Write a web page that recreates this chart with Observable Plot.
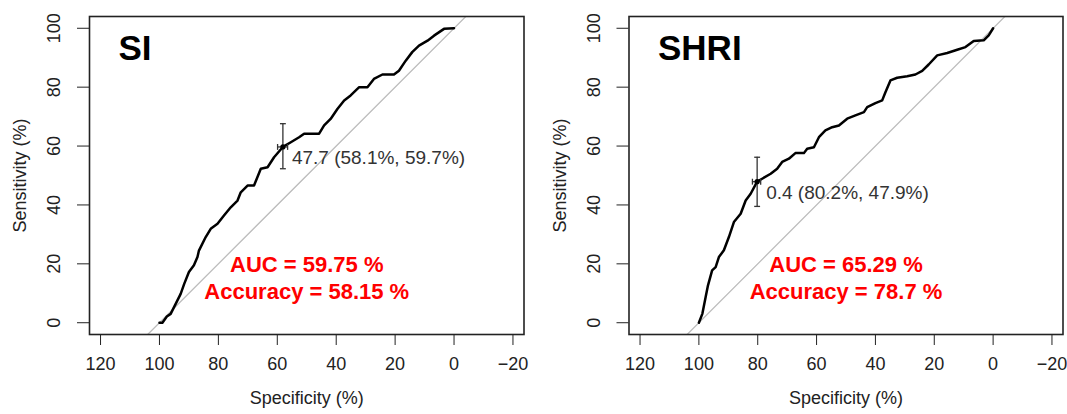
<!DOCTYPE html>
<html><head><meta charset="utf-8">
<script src="https://cdn.jsdelivr.net/npm/d3@7"></script>
<script src="https://cdn.jsdelivr.net/npm/@observablehq/plot@0.6"></script>
<style>
body{margin:0;background:#fff;}
#row{display:flex;width:1067px;height:414px;overflow:hidden;}
#row svg{flex:none;}
</style>
</head><body><div id="row"></div>
<script>
// ---- data ----
const xTicks = [120, 100, 80, 60, 40, 20, 0, -20];
const yTicks = [0, 20, 40, 60, 80, 100];
const panelTitles = ["SI", "SHRI"];

const siSpec = [100, 99, 97.5, 96.2, 94.5, 92.8, 91.6, 90.0, 88.3, 87.1, 86.6, 84.3, 82.6, 80.3, 78.1, 75.8, 73.5, 72.4, 70.1, 67.9, 65.6, 63.3, 61.1, 58.1, 55.4, 52.6, 50.9, 45.8, 44.1, 41.9, 39.6, 37.3, 35.1, 32.2, 29.4, 27.2, 24.3, 20.4, 18.7, 16.4, 14.2, 11.9, 9.0, 6.8, 3.4, 0];
const siSens = [0, 0, 2.1, 3.0, 6.4, 9.8, 13.2, 17.2, 19.5, 22.3, 24.5, 29.1, 31.9, 33.6, 36.4, 39.2, 41.5, 44.3, 46.6, 46.6, 52.3, 52.8, 56.2, 59.7, 61.3, 63.0, 64.2, 64.2, 67.0, 69.2, 72.6, 75.5, 77.2, 80.0, 80.0, 82.8, 84.3, 84.3, 85.6, 89.0, 91.9, 94.1, 95.8, 97.5, 99.8, 100];

const shriSpec = [100, 98.8, 97.7, 96.9, 95.5, 94.3, 93.2, 91.5, 89.8, 88.1, 85.8, 84.1, 82.4, 80.2, 78.5, 75.6, 73.4, 71.7, 69.4, 67.2, 64.3, 63.2, 60.9, 59.2, 57.0, 54.7, 52.4, 49.6, 46.8, 43.9, 42.8, 40.0, 37.7, 36.6, 34.9, 32.6, 29.2, 26.4, 24.1, 21.9, 19.0, 15.6, 12.2, 9.4, 6.6, 3.2, 1.5, 0];
const shriSens = [0, 3.1, 8.7, 12.7, 17.8, 18.9, 22.3, 24.6, 29.1, 34.2, 37.0, 41.5, 43.8, 47.9, 48.9, 50.6, 52.3, 54.6, 55.7, 57.6, 57.6, 59.1, 59.6, 63.0, 65.3, 66.4, 67.0, 69.3, 70.4, 71.5, 73.2, 74.6, 75.5, 78.3, 82.3, 83.2, 83.7, 84.3, 85.5, 87.7, 90.8, 91.6, 92.7, 93.6, 95.7, 95.9, 97.6, 100];

const thresholdLabels = ["47.7", "0.4"];
const thresholdSpec = [58.1, 80.2];
const thresholdSens = [59.7, 47.9];
const sensCILow = [52.3, 39.5];
const sensCIHigh = [67.6, 56.2];
const specCILow = [56.5, 79.0];
const specCIHigh = [59.9, 81.8];
const aucValues = ["59.75", "65.29"];
const accuracyValues = ["58.15", "78.7"];

const diagSpec = [130, -30]; // chance line, sensitivity = 100 - specificity

// ---- drawing ----
const FONT = "'Liberation Sans', Arial, Helvetica, sans-serif";
const INK = "#222";
const CAP = 1; // half cap width in data units

function panel(i, curveSpec, curveSens, width, marginLeft, marginRight) {
  const curve = curveSpec.map((s, k) => ({spec: s, sens: curveSens[k]}));
  const thr = [{
    spec: thresholdSpec[i], sens: thresholdSens[i],
    lo: sensCILow[i], hi: sensCIHigh[i], slo: specCILow[i], shi: specCIHigh[i],
    label: `${thresholdLabels[i]} (${thresholdSpec[i]}%, ${thresholdSens[i]}%)`
  }];
  const fmt = d => d < 0 ? "\u2212" + (-d) : String(d);
  return Plot.plot({
    width, height: 414,
    marginLeft, marginRight, marginTop: 16, marginBottom: 80,
    x: {domain: [123.75, -23.75]},
    y: {domain: [-4, 104]},
    style: {fontFamily: FONT, fontSize: "18px", color: INK, background: "#fff", overflow: "visible"},
    marks: [
      Plot.line(diagSpec, {x: d => d, y: d => 100 - d, stroke: "#bdbdbd", strokeWidth: 1.3, clip: true}),
      Plot.line(curve, {x: "spec", y: "sens", stroke: "#000", strokeWidth: 2.5, strokeLinejoin: "round"}),
      // CI cross
      Plot.ruleX(thr, {x: "spec", y1: "lo", y2: "hi", stroke: "#333", strokeWidth: 1.3}),
      Plot.link(thr, {x1: d => d.spec + CAP, x2: d => d.spec - CAP, y1: "lo", y2: "lo", stroke: "#333", strokeWidth: 1.3}),
      Plot.link(thr, {x1: d => d.spec + CAP, x2: d => d.spec - CAP, y1: "hi", y2: "hi", stroke: "#333", strokeWidth: 1.3}),
      Plot.ruleY(thr, {y: "sens", x1: "slo", x2: "shi", stroke: "#333", strokeWidth: 1.3}),
      Plot.link(thr, {x1: "slo", x2: "slo", y1: d => d.sens - CAP, y2: d => d.sens + CAP, stroke: "#333", strokeWidth: 1.3}),
      Plot.link(thr, {x1: "shi", x2: "shi", y1: d => d.sens - CAP, y2: d => d.sens + CAP, stroke: "#333", strokeWidth: 1.3}),
      Plot.dot(thr, {x: "spec", y: "sens", r: 2.6, fill: "#000"}),
      Plot.text(thr, {x: "spec", y: "sens", text: "label", textAnchor: "start", dx: 9, dy: 11, fontSize: 19, fill: "#333"}),
      // AUC / accuracy
      Plot.text([`AUC = ${aucValues[i]} %`], {x: 50, y: 19.7, text: d => d, fill: "#ff0000", fontWeight: "bold", fontSize: 22}),
      Plot.text([`Accuracy = ${accuracyValues[i]} %`], {x: 50, y: 10.6, text: d => d, fill: "#ff0000", fontWeight: "bold", fontSize: 22}),
      // title
      Plot.text([panelTitles[i]], {frameAnchor: "top-left", text: d => d, textAnchor: "start", lineAnchor: "top", dx: 29, dy: 19, fontSize: 35, fontWeight: "bold", fill: "#000"}),
      // frame and axes
      Plot.frame({stroke: INK, strokeWidth: 1.6}),
      Plot.axisX({ticks: xTicks, tickSize: 11, tickFormat: () => "", label: null, stroke: INK}),
      Plot.text(xTicks, {x: d => d, text: fmt, frameAnchor: "bottom", textAnchor: "middle", dy: 35, fontSize: 18, fill: INK}),
      Plot.axisY({ticks: yTicks, tickSize: 12, tickFormat: () => "", label: null, stroke: INK}),
      Plot.text(yTicks, {y: d => d, text: fmt, frameAnchor: "left", textAnchor: "middle", dx: -35, rotate: -90, fontSize: 18, fill: INK}),
      Plot.text(["Specificity (%)"], {text: d => d, frameAnchor: "bottom", textAnchor: "middle", dy: 69, fontSize: 18, fill: INK}),
      Plot.text(["Sensitivity (%)"], {text: d => d, frameAnchor: "left", textAnchor: "middle", dx: -69, rotate: -90, fontSize: 18, fill: INK})
    ]
  });
}

const row = document.getElementById("row");
row.append(panel(0, siSpec, siSens, 540, 89, 16.5));
row.append(panel(1, shriSpec, shriSens, 527, 88.5, 4.5));
</script>
</body></html>
